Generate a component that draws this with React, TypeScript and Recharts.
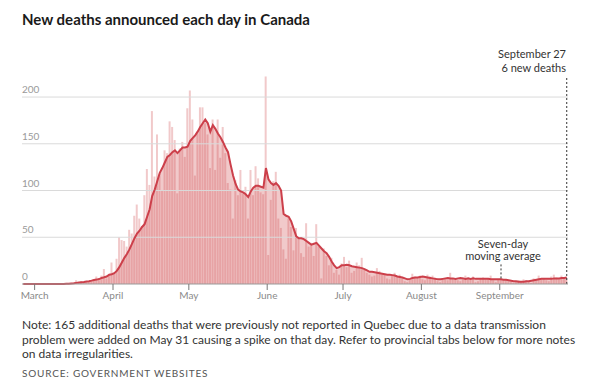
import {
  ComposedChart,
  Bar,
  Area,
  Line,
  XAxis,
  YAxis,
  ReferenceLine,
} from "recharts";

// new deaths per day (Feb 25 -> Sep 27, 2020)
const febDaily = [0, 0, 0, 0, 0];
const marDaily = [0, 0, 0, 0, 0, 0, 0, 0, 1, 0, 0, 1, 0, 0, 0, 0, 4, 2, 3, 1, 2, 3, 4, 5, 8, 4, 9, 16, 6, 10, 23];
const aprDaily = [12, 27, 50, 47, 46, 40, 58, 54, 73, 85, 70, 62, 95, 123, 106, 185, 115, 160, 118, 100, 143, 140, 174, 168, 154, 97, 145, 152, 136, 188];
const mayDaily = [207, 176, 116, 161, 189, 189, 172, 160, 124, 176, 122, 176, 135, 168, 140, 108, 101, 70, 111, 95, 122, 97, 104, 70, 122, 95, 126, 113, 98, 96, 222];
const junDaily = [31, 90, 110, 120, 70, 60, 37, 27, 70, 61, 36, 60, 50, 33, 29, 65, 40, 44, 30, 64, 40, 6, 38, 30, 20, 28, 12, 15, 10, 22];
const julDaily = [29, 18, 25, 12, 14, 23, 20, 28, 15, 12, 10, 8, 9, 17, 14, 10, 11, 6, 5, 9, 12, 8, 10, 6, 3, 2, 5, 11, 8, 7, 9];
const augDaily = [5, 4, 10, 8, 9, 7, 3, 2, 5, 6, 4, 12, 6, 5, 4, 3, 7, 9, 6, 5, 8, 2, 3, 6, 7, 5, 6, 9, 4, 2, 5];
const sepDaily = [6, 4, 5, 3, 2, 1, 2, 4, 3, 5, 4, 2, 1, 6, 4, 9, 5, 6, 4, 3, 8, 10, 7, 5, 9, 7, 6];

// seven-day moving average line
const febAvg = [0, 0, 0, 0, 0];
const marAvg = [0, 0, 0, 0, 0, 0, 0, 0, 0, 0.1, 0.1, 0.1, 0.2, 0.3, 0.5, 0.7, 1.2, 1.5, 1.8, 2.1, 2.6, 3.0, 3.6, 4.3, 4.7, 5.3, 6.5, 7.2, 8.0, 10.0, 10.5];
const aprAvg = [11.5, 14, 18, 23, 28, 32, 37, 43, 49, 54, 57, 61, 64, 72, 80, 94, 101, 110, 119, 124, 130, 136, 138, 141, 143, 140, 143, 146, 146, 147];
const mayAvg = [153, 156, 159, 163, 168, 172, 176, 172, 163, 170, 166, 161, 157, 152, 146, 141, 128, 116, 107, 101, 99, 98, 96, 93, 99, 103, 105, 105, 104, 103, 124];
const junAvg = [112, 108, 106, 108, 105, 100, 75, 73, 72, 67, 59, 51, 49, 49, 48, 46, 44, 42, 43, 44, 41, 38, 35, 33, 29, 24, 20, 17, 18, 20];
const julAvg = [20, 20.5, 20, 19, 18.5, 18, 17.5, 17, 16, 14.5, 13, 13, 12.5, 12, 11.5, 11, 10.5, 10, 10, 9.5, 9, 8, 7.5, 7, 6, 5, 5.5, 6.5, 7, 7, 7.5];
const augAvg = [8, 7.5, 7, 6.5, 6, 5.5, 5, 5, 5.5, 6, 6.5, 6, 6, 5.5, 6, 6.5, 6, 5.5, 6, 5.5, 6, 5.5, 5.5, 5.5, 5.5, 5.5, 5.5, 5, 5, 5, 5];
const sepAvg = [5, 4.5, 4.5, 4, 3.5, 3, 3, 2.5, 2.5, 2.5, 3, 3, 3.5, 4, 4.5, 5, 5.5, 5.5, 5.5, 5.5, 5.5, 6, 6, 6, 6.5, 6.5, 7];

const monthTicks = [4.5, 35.5, 65.5, 96.5, 126.5, 157.5, 188.5];
const monthLabels = ["March", "April", "May", "June", "July", "August", "September"];
const yTicks = [0, 50, 100, 150, 200];

const daily = [...febDaily, ...marDaily, ...aprDaily, ...mayDaily, ...junDaily, ...julDaily, ...augDaily, ...sepDaily];
const avg = [...febAvg, ...marAvg, ...aprAvg, ...mayAvg, ...junAvg, ...julAvg, ...augAvg, ...sepAvg];
const data = daily.map((d, i) => ({ day: i, deaths: d, avg: avg[i] }));
const lastDay = daily.length - 1;

const font = "Lato, 'Open Sans', sans-serif";

const renderYTick = (props: any) => (
  <text key={props.payload.value} x={22} y={props.y - 4} fontSize={10} fill="#9a9a9a" fontFamily={font}>
    {props.payload.value}
  </text>
);

export default function App() {
  return (
    <div
      style={{
        position: "absolute",
        left: 0,
        top: 0,
        width: 600,
        height: 387,
        background: "#fff",
        fontFamily: font,
        color: "#222",
      }}
    >
      <div style={{ position: "absolute", left: 22, top: 10, fontSize: 15, fontWeight: 700, color: "#1a1a1a" }}>
        New deaths announced each day in Canada
      </div>

      <div style={{ position: "absolute", top: 0, left: 0 }}>
        <ComposedChart
          width={600}
          height={310}
          data={data}
          margin={{ top: 69, right: 32, left: 0, bottom: 0 }}
        >
          {yTicks.slice(1).map((t) => (
            <ReferenceLine key={t} y={t} stroke="#dadada" />
          ))}
          <XAxis
            dataKey="day"
            type="number"
            domain={[-0.5, lastDay + 0.5]}
            ticks={monthTicks}
            tickFormatter={(v: number) => monthLabels[monthTicks.indexOf(v)]}
            height={26}
            stroke="#999"
            tickLine={{ stroke: "#777" }}
            tick={{ fontSize: 10, fill: "#8a8a8a", fontFamily: font }}
            interval={0}
          />
          <YAxis
            domain={[0, 230]}
            ticks={yTicks}
            width={22}
            axisLine={false}
            tickLine={false}
            interval={0}
            tick={renderYTick}
          />
          <Bar dataKey="deaths" fill="#d24c4e" fillOpacity={0.3} barSize={2} isAnimationActive={false} />
          <Area
            type="linear"
            dataKey="avg"
            stroke="none"
            fill="#d24c4e"
            fillOpacity={0.3}
            isAnimationActive={false}
          />
          <Line
            type="linear"
            dataKey="avg"
            stroke="#cc3f4a"
            strokeWidth={2}
            dot={false}
            isAnimationActive={false}
          />
          <ReferenceLine
            segment={[{ x: lastDay, y: 0 }, { x: lastDay, y: 222 }]}
            stroke="#333"
            strokeDasharray="2 2"
          />
          <ReferenceLine
            segment={[{ x: 189, y: 6 }, { x: 189, y: 23 }]}
            stroke="#333"
            strokeDasharray="2 2"
          />
        </ComposedChart>
      </div>

      <div style={{ position: "absolute", right: 34, top: 47, textAlign: "right", fontSize: 11, lineHeight: "14px", color: "#333" }}>
        September 27
        <br />6 new deaths
      </div>
      <div style={{ position: "absolute", left: 453, width: 100, top: 238, textAlign: "center", fontSize: 11, lineHeight: "12px", color: "#333" }}>
        Seven-day
        <br />
        moving average
      </div>

      <div style={{ position: "absolute", left: 22, top: 318, width: 560, fontSize: 12, lineHeight: "14.5px", color: "#333" }}>
        Note: 165 additional deaths that were previously not reported in Quebec due to a data transmission
        <br />
        problem were added on May 31 causing a spike on that day. Refer to provincial tabs below for more notes
        <br />
        on data irregularities.
      </div>
      <div style={{ position: "absolute", left: 22, top: 367, fontSize: 10, letterSpacing: 0.8, color: "#555" }}>
        SOURCE: GOVERNMENT WEBSITES
      </div>
    </div>
  );
}
